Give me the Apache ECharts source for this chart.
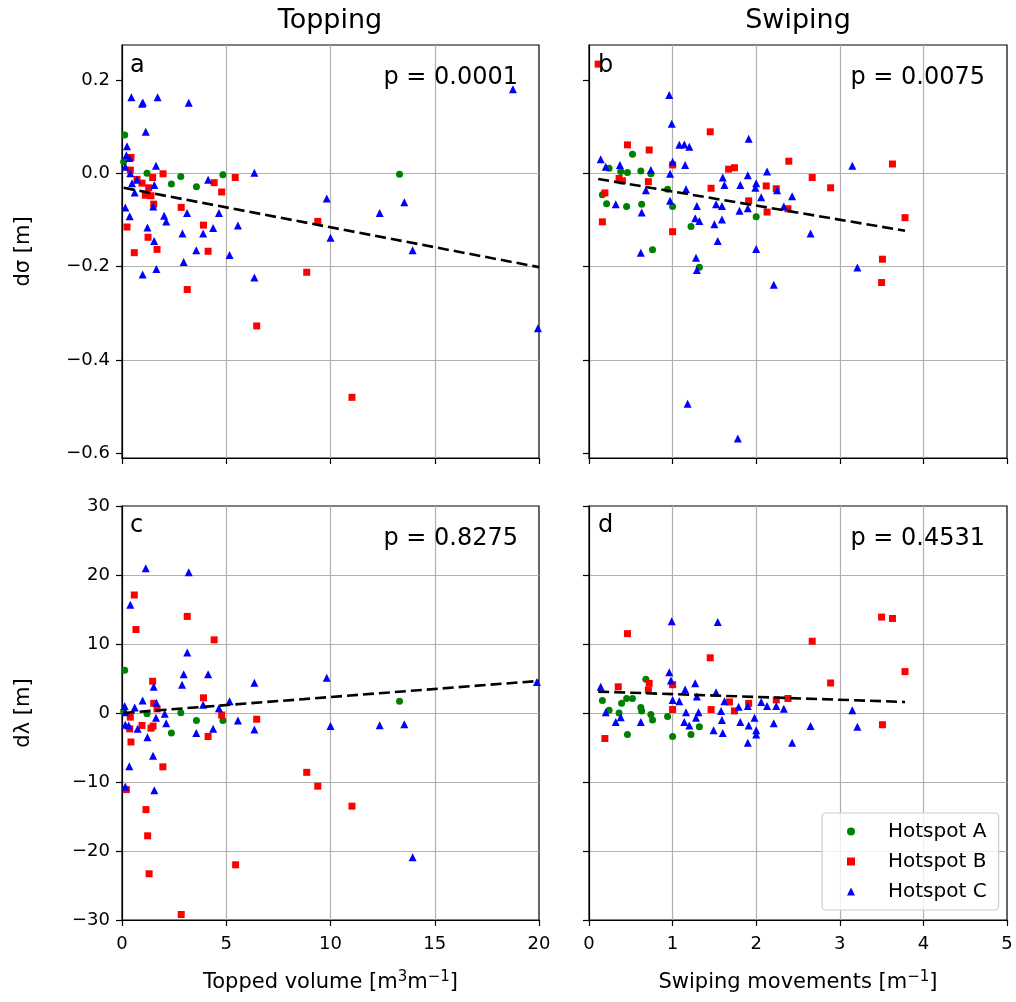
<!DOCTYPE html>
<html>
<head>
<meta charset="utf-8">
<script src="https://cdn.jsdelivr.net/npm/echarts@6/dist/echarts.min.js"></script>
<style>
  html, body { margin: 0; padding: 0; background: #fff; }
  #chart { width: 1016px; height: 1002px; }
</style>
</head>
<body>
<div id="chart"></div>
<script>
// Hotspot groups and their marker colours / shapes
const hotspotNames = ['Hotspot A', 'Hotspot B', 'Hotspot C'];
const hotspotColors = ['#008000', '#ff0000', '#0000ff'];
const hotspotSymbols = ['circle', 'rect', 'triangle'];

// (a) topped volume [m3 m-1] vs dσ [m]
const toppedSigmaA = [[0.13,0.082],[0.08,0.025],[1.2,0.0],[2.37,-0.023],[2.82,-0.007],[3.57,-0.029],[4.84,-0.003],[13.31,-0.002]];
const toppedSigmaB = [[0.43,0.034],[0.4,0.007],[0.72,-0.013],[0.96,-0.021],[1.47,-0.009],[1.97,-0.001],[1.28,-0.031],[1.12,-0.047],[1.39,-0.048],[1.52,-0.066],[2.84,-0.073],[4.42,-0.02],[4.78,-0.04],[5.43,-0.009],[0.24,-0.115],[1.25,-0.137],[1.68,-0.163],[0.59,-0.17],[3.91,-0.111],[4.13,-0.167],[3.13,-0.249],[6.46,-0.327],[8.86,-0.212],[9.39,-0.103],[11.03,-0.48]];
const toppedSigmaC = [[0.45,0.163],[0.96,0.149],[1.0,0.152],[1.71,0.163],[3.2,0.151],[1.14,0.089],[0.24,0.058],[0.21,0.039],[0.35,0.033],[0.16,0.014],[1.63,0.016],[0.4,0.0],[0.72,-0.014],[0.48,-0.021],[0.61,-0.041],[1.55,-0.025],[4.13,-0.014],[6.35,0.001],[0.16,-0.073],[0.37,-0.092],[1.5,-0.071],[2.02,-0.091],[2.12,-0.103],[3.12,-0.085],[4.65,-0.085],[5.56,-0.112],[1.22,-0.116],[1.54,-0.145],[2.9,-0.129],[3.89,-0.129],[4.37,-0.117],[3.56,-0.165],[5.16,-0.175],[2.96,-0.19],[0.99,-0.217],[1.65,-0.205],[6.35,-0.223],[9.82,-0.054],[10.0,-0.138],[18.75,0.18],[12.36,-0.085],[13.54,-0.062],[13.94,-0.165],[19.95,-0.332]];
const toppedSigmaFit = [[0.08,-0.031],[20,-0.201]];

// (b) swiping movements [m-1] vs dσ [m]
const swipeSigmaA = [[0.52,0.041],[0.24,0.011],[0.38,0.004],[0.46,0.002],[0.62,0.005],[0.74,-0.001],[0.94,-0.034],[0.16,-0.046],[0.21,-0.065],[0.45,-0.071],[0.63,-0.066],[1.0,-0.071],[1.22,-0.114],[0.76,-0.164],[1.32,-0.201],[2.0,-0.093]];
const swipeSigmaB = [[0.11,0.234],[0.46,0.061],[0.72,0.05],[1.45,0.089],[1.0,0.018],[1.67,0.009],[1.74,0.012],[2.39,0.026],[0.36,-0.011],[0.4,-0.016],[0.71,-0.018],[1.46,-0.032],[2.12,-0.027],[2.24,-0.033],[0.19,-0.042],[1.91,-0.059],[2.13,-0.083],[2.38,-0.076],[0.16,-0.104],[1.0,-0.125],[2.67,-0.009],[2.89,-0.031],[3.63,0.02],[3.78,-0.095],[3.51,-0.184],[3.5,-0.234]];
const swipeSigmaC = [[0.96,0.168],[0.99,0.106],[1.08,0.061],[1.14,0.062],[1.2,0.057],[1.91,0.074],[0.14,0.03],[0.2,0.014],[0.37,0.018],[0.74,0.007],[1.0,0.025],[1.15,0.018],[0.97,-0.001],[2.13,0.004],[1.9,-0.004],[1.6,-0.009],[1.62,-0.025],[1.81,-0.025],[2.0,-0.021],[1.99,-0.031],[0.68,-0.036],[1.16,-0.034],[2.25,-0.036],[2.43,-0.049],[2.06,-0.051],[0.97,-0.059],[0.32,-0.066],[1.29,-0.07],[1.52,-0.066],[1.59,-0.07],[1.9,-0.075],[1.8,-0.08],[2.33,-0.071],[0.63,-0.084],[1.27,-0.096],[1.32,-0.102],[1.59,-0.099],[1.5,-0.109],[1.54,-0.145],[2.0,-0.162],[0.62,-0.17],[1.28,-0.181],[1.29,-0.207],[1.18,-0.494],[1.78,-0.568],[2.21,-0.239],[3.15,0.016],[2.65,-0.129],[3.21,-0.202]];
const swipeSigmaFit = [[0.11,-0.012],[3.78,-0.123]];

// (c) topped volume [m3 m-1] vs dλ [m]
const toppedLambdaA = [[0.13,6.2],[0.08,0.3],[1.2,-0.1],[2.37,-2.9],[2.82,0.05],[3.57,-1.07],[4.84,-1.07],[13.31,1.7]];
const toppedLambdaB = [[0.59,17.1],[0.67,12.1],[3.13,14.0],[4.42,10.6],[1.47,4.6],[3.91,2.2],[1.52,1.4],[1.68,0.6],[0.4,-0.6],[0.37,-2.3],[0.96,-1.8],[1.39,-2.2],[1.49,-1.9],[4.78,-0.3],[6.46,-0.9],[4.13,-3.4],[0.43,-4.2],[1.96,-7.8],[0.21,-11.1],[1.15,-14.0],[1.23,-17.8],[1.3,-23.3],[2.84,-29.2],[5.45,-22.0],[8.86,-8.6],[9.39,-10.6],[11.03,-13.5]];
const toppedLambdaC = [[1.14,20.97],[3.2,20.4],[0.4,15.7],[3.13,8.77],[2.96,5.6],[4.13,5.6],[2.88,4.1],[1.52,3.8],[6.35,4.4],[9.82,5.1],[0.13,1.0],[0.61,0.8],[0.99,1.8],[1.65,1.5],[2.05,-0.1],[3.89,1.2],[4.65,0.7],[5.16,1.7],[0.16,-1.7],[0.32,-1.8],[0.75,-2.3],[1.63,-0.7],[2.12,-1.5],[1.22,-3.5],[3.56,-2.9],[4.37,-2.3],[5.56,-1.1],[6.35,-2.4],[10.0,-1.9],[1.49,-6.2],[0.35,-7.7],[0.16,-10.7],[1.55,-11.2],[0.16,0.1],[12.36,-1.78],[13.54,-1.64],[13.94,-20.9],[19.9,4.5]];
const toppedLambdaFit = [[0.08,0.0],[20,4.65]];

// (d) swiping movements [m-1] vs dλ [m]
const swipeLambdaA = [[0.68,4.9],[0.16,1.8],[0.39,1.4],[0.45,2.1],[0.52,2.1],[0.62,0.8],[0.63,0.3],[0.24,0.4],[0.36,0.0],[0.74,-0.2],[0.76,-1.0],[0.94,-0.5],[0.46,-3.1],[1.0,-3.4],[1.22,-3.1],[1.32,-2.0]];
const swipeLambdaB = [[0.46,11.5],[1.45,8.0],[0.35,3.8],[0.72,4.3],[0.71,3.3],[1.0,4.1],[1.0,0.5],[1.46,0.5],[1.68,1.6],[1.74,0.3],[1.91,1.4],[2.24,1.9],[2.38,2.1],[0.19,-3.7],[2.67,10.4],[2.89,4.35],[3.5,13.9],[3.63,13.7],[3.78,6.0],[3.51,-1.7]];
const swipeLambdaC = [[0.99,13.3],[1.54,13.2],[0.14,3.8],[0.96,5.9],[0.98,4.7],[1.27,4.3],[1.15,3.4],[1.52,3.0],[1.29,2.4],[1.0,1.9],[1.08,1.7],[1.62,1.7],[2.06,1.6],[2.13,1.0],[2.24,1.0],[2.33,0.6],[1.79,0.9],[1.9,1.0],[0.2,0.1],[1.16,0.1],[1.31,0.1],[1.58,0.3],[0.38,-0.6],[0.32,-1.3],[0.62,-1.3],[1.28,-0.7],[1.14,-1.3],[1.2,-1.8],[1.59,-1.0],[1.81,-1.3],[1.98,-0.7],[1.91,-1.8],[2.0,-2.5],[2.0,-3.1],[2.21,-1.5],[1.49,-2.5],[1.6,-2.9],[1.9,-4.3],[2.43,-4.3],[2.65,-1.9],[3.15,0.4],[3.21,-2.0]];
const swipeLambdaFit = [[0.11,3.1],[3.78,1.6]];

// Axis ranges and ticks
const sigmaTicks = [-0.6, -0.4, -0.2, 0.0, 0.2];
const sigmaRange = [-0.61, 0.275];
const lambdaRange = [-30, 30];
const toppedRange = [0, 20];
const swipeRange = [0, 5];

// Panel texts
const panelLetters = ['a', 'b', 'c', 'd'];
const pValues = ['p = 0.0001', 'p = 0.0075', 'p = 0.8275', 'p = 0.4531'];
const columnTitles = ['Topping', 'Swiping'];
const axisTitles = {
  topped: '{t|Topped volume [m}{s|3}{t|m}{s|\u22121}{t|]}',
  swipe: '{t|Swiping movements [m}{s|\u22121}{t|]}',
  sigma: 'd\u03c3 [m]',
  lambda: 'd\u03bb [m]'
};

const FONT = "'DejaVu Sans', sans-serif";
const TICK_SIZE = 18;
const LABEL_SIZE = 21;

const grids = [
  { left: 122, top: 45, width: 417, height: 413 },
  { left: 589, top: 45, width: 418, height: 413 },
  { left: 122, top: 506, width: 417, height: 414 },
  { left: 589, top: 506, width: 418, height: 414 }
].map(g => Object.assign(g, {
  show: true, borderColor: '#000', borderWidth: 1.2, backgroundColor: 'transparent'
}));

const fmtNum = (v, d) => {
  const s = Math.abs(v).toFixed(d);
  return (v < -1e-9 ? '\u2212' : '') + s;
};

function makeX(gridIndex, range, interval, showLabels, name) {
  return {
    type: 'value', gridIndex, min: range[0], max: range[1], interval,
    axisLine: { show: true, onZero: false, lineStyle: { color: '#000', width: 1.2 } },
    axisTick: { show: true, inside: false, length: 6, lineStyle: { color: '#000', width: 1.2 } },
    axisLabel: {
      show: showLabels, margin: 15, color: '#000', fontFamily: FONT, fontSize: TICK_SIZE,
      formatter: v => fmtNum(v, 0), showMinLabel: true, showMaxLabel: true
    },
    splitLine: { show: true, showMinLine: false, showMaxLine: false, lineStyle: { color: '#b0b0b0', width: 1.2 } },
    name: name || '', nameLocation: 'middle', nameGap: 50,
    nameTextStyle: {
      color: '#000', fontFamily: FONT, fontSize: LABEL_SIZE,
      rich: {
        t: { color: '#000', fontFamily: FONT, fontSize: LABEL_SIZE, lineHeight: 26 },
        s: { color: '#000', fontFamily: FONT, fontSize: 15, lineHeight: 14, verticalAlign: 'top' }
      }
    }
  };
}

function makeY(gridIndex, kind, showLabels, name) {
  const base = {
    type: 'value', gridIndex,
    axisLine: { show: true, onZero: false, lineStyle: { color: '#000', width: 1.2 } },
    axisTick: { show: true, inside: false, length: 6, lineStyle: { color: '#000', width: 1.2 } },
    splitLine: { show: true, showMinLine: false, showMaxLine: false, lineStyle: { color: '#b0b0b0', width: 1.2 } },
    name: name || '', nameLocation: 'middle', nameGap: 88,
    nameTextStyle: { color: '#000', fontFamily: FONT, fontSize: LABEL_SIZE }
  };
  const label = { show: showLabels, margin: 12, color: '#000', fontFamily: FONT, fontSize: TICK_SIZE };
  if (kind === 'sigma') {
    base.min = sigmaRange[0];
    base.max = sigmaRange[1];
    base.axisTick.customValues = sigmaTicks;
    base.splitLine.customValues = sigmaTicks;
    label.customValues = sigmaTicks;
    label.formatter = v => fmtNum(v, 1);
  } else {
    base.min = lambdaRange[0];
    base.max = lambdaRange[1];
    base.interval = 10;
    label.formatter = v => fmtNum(v, 0);
  }
  base.axisLabel = label;
  return base;
}

const xAxes = [
  makeX(0, toppedRange, 5, false),
  makeX(1, swipeRange, 1, false),
  makeX(2, toppedRange, 5, true, axisTitles.topped),
  makeX(3, swipeRange, 1, true, axisTitles.swipe)
];
const yAxes = [
  makeY(0, 'sigma', true, axisTitles.sigma),
  makeY(1, 'sigma', false),
  makeY(2, 'lambda', true, axisTitles.lambda),
  makeY(3, 'lambda', false)
];

const panelData = [
  [toppedSigmaA, toppedSigmaB, toppedSigmaC, toppedSigmaFit],
  [swipeSigmaA, swipeSigmaB, swipeSigmaC, swipeSigmaFit],
  [toppedLambdaA, toppedLambdaB, toppedLambdaC, toppedLambdaFit],
  [swipeLambdaA, swipeLambdaB, swipeLambdaC, swipeLambdaFit]
];
const symbolSizes = [7, 7, 8];

const series = [];
panelData.forEach((sets, p) => {
  for (let h = 0; h < 3; h++) {
    series.push({
      type: 'scatter', name: hotspotNames[h], xAxisIndex: p, yAxisIndex: p,
      data: sets[h], symbol: hotspotSymbols[h], symbolSize: symbolSizes[h],
      itemStyle: { color: hotspotColors[h], opacity: 1 }, z: 2 + h, clip: true,
      emphasis: { disabled: true }
    });
  }
  series.push({
    type: 'line', name: 'fit', xAxisIndex: p, yAxisIndex: p, data: sets[3],
    showSymbol: false, symbol: 'none', z: 6, silent: true,
    lineStyle: { color: '#000', width: 2.6, type: [11, 5] }
  });
});

// Column titles, panel letters and p-values
const textStyle = (txt, size, align, vAlign) => ({
  text: txt, fill: '#000', font: size + 'px ' + FONT, align: align, verticalAlign: vAlign,
  textAlign: align, textVerticalAlign: vAlign
});
const graphics = [
  { type: 'text', x: 330, y: 21, style: textStyle(columnTitles[0], 27, 'center', 'middle') },
  { type: 'text', x: 798, y: 21, style: textStyle(columnTitles[1], 27, 'center', 'middle') }
];
const letterPos = [[130, 66], [598, 66], [130, 526], [598, 526]];
const pPos = [[518, 78], [985, 78], [518, 539], [985, 539]];
for (let i = 0; i < 4; i++) {
  graphics.push({ type: 'text', x: letterPos[i][0], y: letterPos[i][1], z: 10,
    style: textStyle(panelLetters[i], 24, 'left', 'middle') });
  graphics.push({ type: 'text', x: pPos[i][0], y: pPos[i][1], z: 10,
    style: textStyle(pValues[i], 24, 'right', 'middle') });
}

const chart = echarts.init(document.getElementById('chart'), null, { renderer: 'canvas' });
chart.setOption({
  animation: false,
  backgroundColor: '#fff',
  grid: grids,
  xAxis: xAxes,
  yAxis: yAxes,
  series: series,
  graphic: graphics,
  legend: {
    data: hotspotNames.map((n, i) => ({ name: n, icon: hotspotSymbols[i], itemStyle: { color: hotspotColors[i] } })),
    orient: 'vertical', left: 822, top: 813,
    itemWidth: 8, itemHeight: 8, itemGap: 9,
    padding: [8, 12, 8, 25],
    backgroundColor: 'rgba(255,255,255,0.8)', borderColor: '#cccccc', borderWidth: 1.2, borderRadius: 4,
    textStyle: { color: '#000', fontFamily: FONT, fontSize: 20, lineHeight: 21, padding: [0, 0, 0, 28] },
    selectedMode: false
  }
});
</script>
</body>
</html>
